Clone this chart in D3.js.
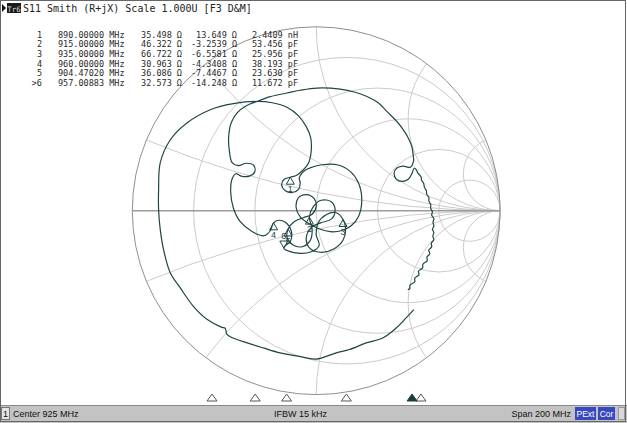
<!DOCTYPE html>
<html><head><meta charset="utf-8">
<script src="https://cdn.jsdelivr.net/npm/d3@7"></script>
<style>body{margin:0;background:#fff;overflow:hidden}svg{display:block}</style>
</head><body>
<svg id="c" width="627" height="423"></svg>
<script>
// ---------- data ----------
const rCircles = [0.2, 0.5, 1, 2, 5];
const xArcs = [0.2, 0.5, 1, 2, 5];
const markerIds = ["1", "2", "3", "4", "5", ">6"];
const markerLabels = ["1", "2", "3", "4", "5", "6"];
const markerMHz = [890, 915, 935, 960, 904.4702, 957.00883];
const markerFreqText = ["890.00000 MHz", "915.00000 MHz", "935.00000 MHz", "960.00000 MHz", "904.47020 MHz", "957.00883 MHz"];
const markerR = [35.498, 46.322, 66.722, 30.963, 36.086, 32.573];
const markerX = [13.649, -3.2539, -6.5581, -4.3408, -7.4467, -14.248];
const markerRText = ["35.498 Ω", "46.322 Ω", "66.722 Ω", "30.963 Ω", "36.086 Ω", "32.573 Ω"];
const markerXText = ["13.649 Ω", "-3.2539 Ω", "-6.5581 Ω", "-4.3408 Ω", "-7.4467 Ω", "-14.248 Ω"];
const markerLCText = ["2.4409 nH", "53.456 pF", "25.956 pF", "38.193 pF", "23.630 pF", "11.672 pF"];
const activeMarker = 5;
const z0 = 50;
const startMHz = 825, stopMHz = 1025;
const titleText = "S11 Smith (R+jX) Scale 1.000U [F3 D&M]";
const statusTexts = ["Center 925 MHz", "IFBW 15 kHz", "Span 200 MHz"];

// S11 trace, reflection coefficient (real, imag), in sweep order
const traceRe = [0.531,0.489,0.435,0.362,0.272,0.181,0.109,0.000,-0.071,-0.196,-0.288,-0.375,-0.462,-0.486,-0.495,-0.516,-0.592,-0.668,-0.739,-0.793,-0.830,-0.848,-0.857,-0.857,-0.848,-0.793,-0.703,-0.576,-0.451,-0.322,
-0.239,-0.159,-0.096,-0.054,-0.030,-0.027,-0.041,-0.076,-0.106,-0.141,-0.174,-0.188,-0.168,-0.130,-0.095,-0.087,-0.092,-0.060,-0.016,0.033,0.113,0.185,0.230,0.248,0.230,0.190,0.136,0.076,0.016,-0.038,
-0.087,-0.109,-0.098,-0.054,-0.011,0.000,-0.022,-0.071,-0.120,-0.153,-0.158,-0.128,-0.076,-0.033,-0.022,-0.037,-0.016,0.027,0.082,0.103,0.082,0.027,-0.027,-0.054,-0.038,0.022,0.098,0.147,0.160,0.146,
0.109,0.054,0.011,0.000,0.016,-0.027,-0.098,-0.176,-0.139,-0.136,-0.168,-0.204,-0.232,-0.250,-0.283,-0.349,-0.413,-0.451,-0.465,-0.459,-0.438,-0.408,-0.364,-0.334,-0.340,-0.380,-0.424,-0.457,-0.473,-0.476,
-0.462,-0.429,-0.380,-0.322,-0.250,-0.159,-0.087,0.004,0.130,0.212,0.276,0.337,0.384,0.435,0.474,0.500,0.520,0.527,0.529,0.511,0.474,0.439,0.424,0.435,0.466,0.502,0.520,0.533,
0.544,0.553,0.570,0.573,0.585,0.588,0.599,0.601,0.613,0.613,0.623,0.622,0.632,0.628,0.640,0.635,0.640,0.632,0.640,0.634,0.640,0.626,0.628,0.612,0.618,0.602,0.604,0.580,0.579,0.556,0.559,0.536,0.536,0.510,0.509,0.498];
const traceIm = [-0.538,-0.583,-0.638,-0.692,-0.719,-0.755,-0.773,-0.807,-0.796,-0.773,-0.746,-0.719,-0.688,-0.671,-0.639,-0.633,-0.592,-0.520,-0.420,-0.339,-0.212,-0.103,0.005,0.114,0.261,0.386,0.477,0.549,0.582,0.594,
0.587,0.563,0.516,0.457,0.397,0.326,0.261,0.217,0.193,0.182,0.171,0.139,0.109,0.099,0.117,0.152,0.179,0.220,0.239,0.250,0.250,0.214,0.151,0.060,-0.031,-0.082,-0.109,-0.114,-0.098,-0.071,
-0.033,0.016,0.068,0.087,0.065,0.022,-0.019,-0.038,-0.060,-0.100,-0.147,-0.185,-0.196,-0.163,-0.103,-0.035,0.022,0.057,0.049,0.000,-0.046,-0.065,-0.092,-0.147,-0.201,-0.226,-0.207,-0.158,-0.098,-0.048,
-0.011,-0.022,-0.065,-0.130,-0.190,-0.223,-0.231,-0.203,-0.163,-0.109,-0.063,-0.052,-0.066,-0.109,-0.136,-0.113,-0.060,0.016,0.103,0.168,0.201,0.188,0.188,0.212,0.247,0.258,0.245,0.261,0.332,0.402,
0.478,0.533,0.571,0.594,0.620,0.640,0.655,0.667,0.661,0.644,0.621,0.587,0.540,0.489,0.440,0.397,0.349,0.304,0.268,0.236,0.242,0.232,0.205,0.172,0.159,0.172,0.201,0.231,
0.223,0.204,0.185,0.166,0.147,0.128,0.109,0.090,0.071,0.052,0.033,0.014,-0.005,-0.024,-0.043,-0.063,-0.082,-0.101,-0.120,-0.139,-0.158,-0.177,-0.196,-0.215,-0.234,-0.253,-0.272,-0.291,-0.310,-0.329,-0.348,-0.367,-0.386,-0.405,-0.424,-0.429];

// ---------- layout ----------
const svg = d3.select("#c");
const cx = 316.2, cy = 210.7, R = 183.9;
const sx = d3.scaleLinear().domain([-1, 1]).range([cx - R, cx + R]);
const sy = d3.scaleLinear().domain([-1, 1]).range([cy + R, cy - R]);
const fx = d3.scaleLinear().domain([startMHz, stopMHz]).range([18, 615]);
const traceCol = "#1f4646";
const gridCol = "#cbcbcb";

svg.append("rect").attr("width", 627).attr("height", 423).attr("fill", "#fff");

const defs = svg.append("defs");
defs.append("clipPath").attr("id", "uc").append("circle")
  .attr("cx", sx(0)).attr("cy", sy(0)).attr("r", sx(1) - sx(0));

const grid = svg.append("g").attr("fill", "none").attr("stroke", gridCol).attr("stroke-width", 1);
rCircles.forEach(r => {
  grid.append("circle").attr("cx", sx(r / (r + 1))).attr("cy", sy(0)).attr("r", sx(1 / (r + 1)) - sx(0));
});
const xg = grid.append("g").attr("clip-path", "url(#uc)");
xArcs.forEach(x => [x, -x].forEach(v => {
  xg.append("circle").attr("cx", sx(1)).attr("cy", sy(1 / v)).attr("r", sx(1 / Math.abs(v)) - sx(0));
}));
// outer circle and real axis
svg.append("circle").attr("cx", sx(0)).attr("cy", sy(0)).attr("r", sx(1) - sx(0))
  .attr("fill", "none").attr("stroke", "#8f8f8f").attr("stroke-width", 1);
svg.append("line").attr("x1", sx(-1)).attr("x2", sx(1)).attr("y1", sy(0)).attr("y2", sy(0))
  .attr("stroke", "#9c9c9c").attr("stroke-width", 1.6);

// trace
const pts = traceRe.map((r, i) => [r, traceIm[i]]);
svg.append("path").datum(pts)
  .attr("d", d3.line().x(d => sx(d[0])).y(d => sy(d[1])).curve(d3.curveCatmullRom.alpha(0.5)))
  .attr("fill", "none").attr("stroke", traceCol).attr("stroke-width", 1.2);

// markers on chart (gamma from impedance)
const gam = markerR.map((rr, i) => {
  const zr = rr / z0, zi = markerX[i] / z0;
  const nr = zr - 1, ni = zi, dr = zr + 1, di = zi;
  const den = dr * dr + di * di;
  return [(nr * dr + ni * di) / den, (ni * dr - nr * di) / den];
});
const mg = svg.append("g").attr("stroke", traceCol).attr("fill", "none").attr("stroke-width", 1);
gam.forEach((g, i) => {
  const px = sx(g[0]), py = sy(g[1]);
  if (i === activeMarker) {
    mg.append("path").attr("d", `M${px},${py}L${px - 4},${py - 7}L${px + 4},${py - 7}Z`);
    svg.append("text").attr("x", px).attr("y", py - 9).attr("text-anchor", "middle")
      .attr("font-family", "Liberation Sans, Arial").attr("font-size", 9).attr("fill", traceCol).text(markerLabels[i]);
  } else {
    mg.append("path").attr("d", `M${px},${py}L${px - 4},${py + 7}L${px + 4},${py + 7}Z`);
    svg.append("text").attr("x", px).attr("y", py + 15).attr("text-anchor", "middle")
      .attr("font-family", "Liberation Sans, Arial").attr("font-size", 9).attr("fill", traceCol).text(markerLabels[i]);
  }
});

// stimulus markers at bottom
markerMHz.forEach((f, i) => {
  const x = fx(f), y = 394;
  svg.append("path").attr("d", `M${x},${y}L${x - 5},${y + 7}L${x + 5},${y + 7}Z`)
    .attr("fill", i === activeMarker ? "#1c3c3c" : "#fff")
    .attr("stroke", i === activeMarker ? "#1c3c3c" : "#555").attr("stroke-width", 1);
});

// title
svg.append("path").attr("d", "M2,4L6,8L2,12Z").attr("fill", "#111");
svg.append("rect").attr("x", 7).attr("y", 3).attr("width", 14).attr("height", 10).attr("fill", "#1a1a1a");
svg.append("text").attr("x", 14).attr("y", 11.5).attr("text-anchor", "middle").attr("font-family", "DejaVu Sans Mono")
  .attr("font-size", 7.5).attr("fill", "#d8d8d8").text("Tr6");
svg.append("text").attr("x", 23).attr("y", 12).attr("font-family", "DejaVu Sans Mono").attr("font-size", 10)
  .attr("fill", "#222").text(titleText);

// marker table
const tf = "DejaVu Sans Mono", ts = 8.5, tc = "#2a2a2a";
markerIds.forEach((id, i) => {
  const y = 37.5 + i * 9.74;
  const t = (x, anchor, s) => svg.append("text").attr("x", x).attr("y", y).attr("text-anchor", anchor)
    .attr("font-family", tf).attr("font-size", ts).attr("fill", tc).text(s);
  t(42, "end", id);
  t(58, "start", markerFreqText[i]);
  t(182, "end", markerRText[i]);
  t(237, "end", markerXText[i]);
  t(298, "end", markerLCText[i]);
});

// status bar
svg.append("rect").attr("x", 0).attr("y", 405).attr("width", 627).attr("height", 18).attr("fill", "#c3c3c3");
svg.append("line").attr("x1", 0).attr("x2", 627).attr("y1", 405.5).attr("y2", 405.5).attr("stroke", "#8a8a8a");
svg.append("rect").attr("x", 1.5).attr("y", 407.5).attr("width", 8).attr("height", 12).attr("fill", "#e4e4e4").attr("stroke", "#777");
const sf = "Liberation Sans, Arial";
svg.append("text").attr("x", 5.5).attr("y", 417).attr("text-anchor", "middle").attr("font-family", sf).attr("font-size", 9).attr("fill", "#111").text("1");
svg.append("text").attr("x", 13).attr("y", 417).attr("font-family", sf).attr("font-size", 9).attr("fill", "#111").text(statusTexts[0]);
svg.append("text").attr("x", 274).attr("y", 417).attr("font-family", sf).attr("font-size", 9).attr("fill", "#111").text(statusTexts[1]);
svg.append("text").attr("x", 571).attr("y", 417).attr("text-anchor", "end").attr("font-family", sf).attr("font-size", 9).attr("fill", "#111").text(statusTexts[2]);
[["PExt", 575, 21], ["Cor", 598, 17]].forEach(([s, x, w]) => {
  svg.append("rect").attr("x", x).attr("y", 407).attr("width", w).attr("height", 13).attr("fill", "#3848c0");
  svg.append("text").attr("x", x + w / 2).attr("y", 417).attr("text-anchor", "middle").attr("font-family", sf)
    .attr("font-size", 8.5).attr("fill", "#fff").text(s);
});
svg.append("rect").attr("x", 618.5).attr("y", 407.5).attr("width", 6).attr("height", 12).attr("fill", "#d8d8d8").attr("stroke", "#999");
// frame
svg.append("rect").attr("x", 0.5).attr("y", 0.5).attr("width", 625).attr("height", 421).attr("fill", "none").attr("stroke", "#666");
</script>
</body></html>
